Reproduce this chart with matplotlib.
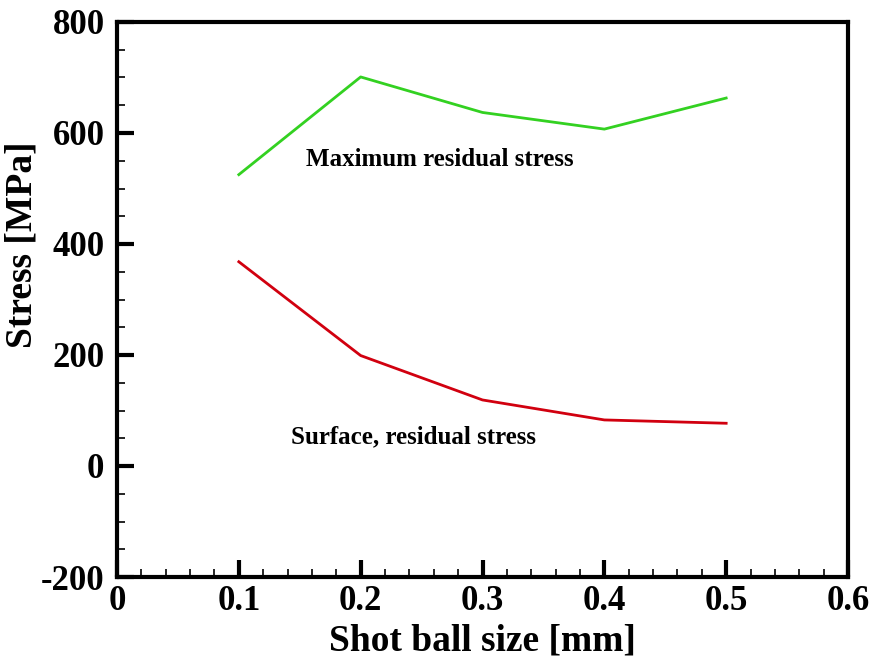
import matplotlib
matplotlib.use("Agg")
from matplotlib import pyplot as plt
from matplotlib.ticker import MultipleLocator

# data
ball_size = [0.1, 0.2, 0.3, 0.4, 0.5]
max_stress = [525, 701, 637, 607, 663]
surface_stress = [368, 199, 119, 83, 77]

plt.rcParams['font.family'] = ['Liberation Serif', 'DejaVu Serif']
plt.rcParams['font.weight'] = 'bold'
plt.rcParams['axes.unicode_minus'] = False

fig = plt.figure(figsize=(8.79, 6.72), dpi=100)
ax = fig.add_axes([117 / 879, 1 - 577 / 672, (848 - 117) / 879, (577 - 22) / 672])

ax.plot(ball_size, max_stress, color=(0.2, 0.82, 0.13), lw=2)
ax.plot(ball_size, surface_stress, color=(0.82, 0.0, 0.06), lw=2)

ax.set_xlim(0, 0.6)
ax.set_ylim(-200, 800)
ax.xaxis.set_major_locator(MultipleLocator(0.1))
ax.xaxis.set_minor_locator(MultipleLocator(0.02))
ax.yaxis.set_major_locator(MultipleLocator(200))
ax.yaxis.set_minor_locator(MultipleLocator(50))
ax.xaxis.set_major_formatter(plt.FuncFormatter(lambda v, p: '0' if abs(v) < 1e-9 else '%.1f' % v))

ax.tick_params(which='major', direction='in', length=12, width=3, labelsize=25, pad=6)
ax.tick_params(which='minor', direction='in', length=6, width=1.2)
ax.tick_params(axis='y', which='major', pad=9)
for s in ax.spines.values():
    s.set_linewidth(3)

ax.set_xlabel("Shot ball size [mm]", fontsize=27, fontweight='bold', labelpad=4)
ax.set_ylabel("Stress [MPa]", fontsize=27, fontweight='bold')
ax.yaxis.set_label_coords(-0.106, 0.598)

ax.text(0.155, 553, "Maximum residual stress", fontsize=18, fontweight='bold', va='center')
ax.text(0.1425, 53, "Surface, residual stress", fontsize=18, fontweight='bold', va='center')

fig.savefig("out.png", dpi=100)
